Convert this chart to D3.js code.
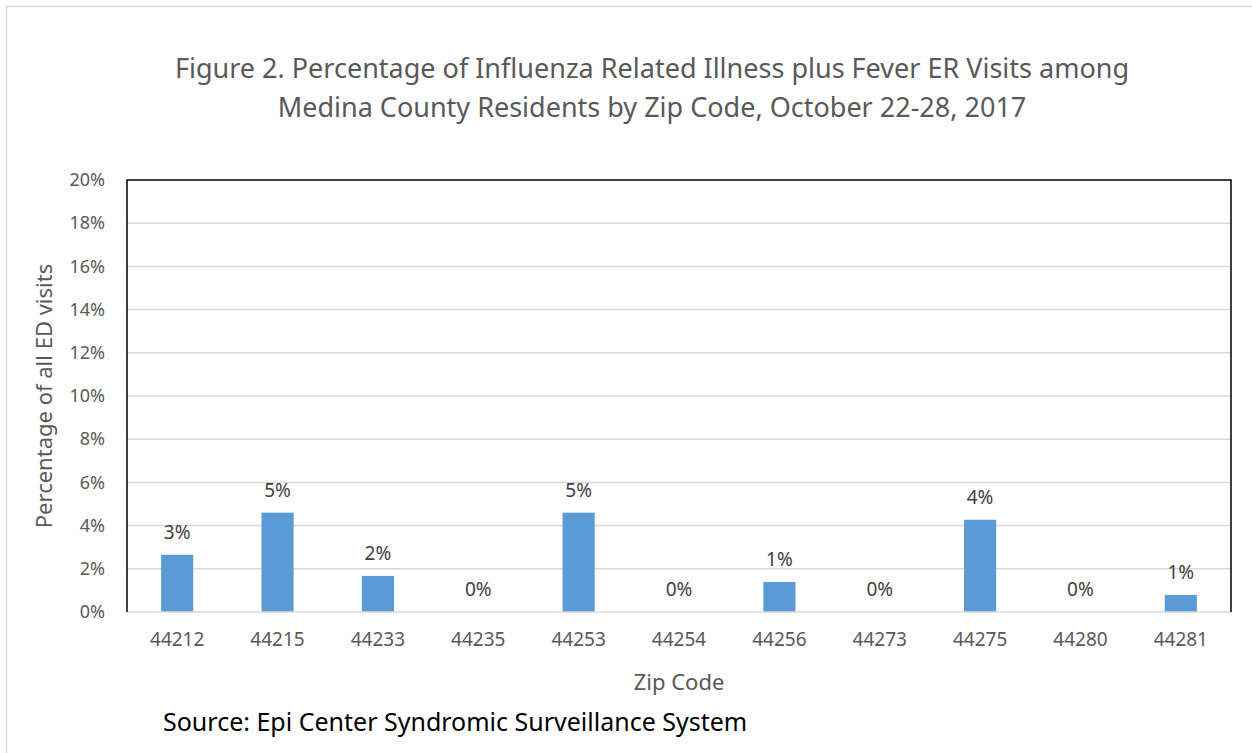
<!DOCTYPE html>
<html>
<head>
<meta charset="utf-8">
<script src="https://cdn.jsdelivr.net/npm/d3@7"></script>
<style>
  html, body { margin: 0; padding: 0; background: #fff; }
  svg { display: block; }
</style>
</head>
<body>
<div id="chart"></div>
<script>
// Data
const zipCodes = ["44212", "44215", "44233", "44235", "44253", "44254", "44256", "44273", "44275", "44280", "44281"];
const percentValues = [2.65, 4.6, 1.67, 0, 4.6, 0, 1.39, 0, 4.27, 0, 0.79];
const yTicks = [0, 2, 4, 6, 8, 10, 12, 14, 16, 18, 20];
const titleLines = [
  "Figure 2. Percentage of Influenza Related Illness plus Fever ER Visits among",
  "Medina County Residents by Zip Code, October 22-28, 2017"
];

const width = 1252;
const height = 753;
const margin = { top: 180, right: 21, bottom: 141, left: 127 };
const font = "'Noto Sans', 'Open Sans', sans-serif";
const textGray = "#595959";

const svg = d3.select("#chart")
  .append("svg")
  .attr("width", width)
  .attr("height", height);

// outer frame
svg.append("rect")
  .attr("x", 6.5).attr("y", 6.5)
  .attr("width", 1260).attr("height", 760)
  .attr("fill", "#fff")
  .attr("stroke", "#d9d9d9")
  .attr("stroke-width", 1.5);

const x = d3.scaleBand()
  .domain(zipCodes)
  .range([margin.left, width - margin.right])
  .paddingInner(0.68)
  .paddingOuter(0.34);

const y = d3.scaleLinear()
  .domain([0, 20])
  .range([height - margin.bottom, margin.top]);

// grid lines
svg.append("g")
  .selectAll("line")
  .data(yTicks.filter(d => d > 0 && d < 20))
  .join("line")
  .attr("x1", margin.left)
  .attr("x2", width - margin.right)
  .attr("y1", d => y(d))
  .attr("y2", d => y(d))
  .attr("stroke", "#d9d9d9")
  .attr("stroke-width", 1.5);

// bars
svg.append("g")
  .selectAll("rect")
  .data(percentValues)
  .join("rect")
  .attr("x", (d, i) => x(zipCodes[i]))
  .attr("y", d => y(d))
  .attr("width", x.bandwidth())
  .attr("height", d => y(0) - y(d))
  .attr("fill", "#5b9bd5");

// value labels
svg.append("g")
  .selectAll("text")
  .data(percentValues)
  .join("text")
  .attr("x", (d, i) => x(zipCodes[i]) + x.bandwidth() / 2)
  .attr("y", d => y(d) - 16)
  .attr("text-anchor", "middle")
  .attr("font-family", font)
  .attr("font-size", "19px")
  .attr("fill", "#404040")
  .text(d => Math.round(d) + "%");

// bottom axis line (gray)
svg.append("line")
  .attr("x1", margin.left).attr("x2", width - margin.right)
  .attr("y1", y(0)).attr("y2", y(0))
  .attr("stroke", "#d9d9d9")
  .attr("stroke-width", 1.5);

// plot border: left, top, right in black
svg.append("path")
  .attr("d", `M${margin.left},${y(0)}V${y(20)}H${width - margin.right}V${y(0)}`)
  .attr("fill", "none")
  .attr("stroke", "#000")
  .attr("stroke-width", 1.5);

// y axis
const yAxis = svg.append("g")
  .attr("transform", `translate(${margin.left},0)`)
  .call(d3.axisLeft(y).tickValues(yTicks).tickSize(0).tickPadding(22).tickFormat(d => d + "%"));
yAxis.select(".domain").remove();
yAxis.selectAll("text")
  .attr("font-family", font)
  .attr("font-size", "18px")
  .attr("fill", textGray);

// x axis
const xAxis = svg.append("g")
  .attr("transform", `translate(0,${y(0)})`)
  .call(d3.axisBottom(x).tickSize(0).tickPadding(21));
xAxis.select(".domain").remove();
xAxis.selectAll("text")
  .attr("font-family", font)
  .attr("font-size", "19px")
  .attr("fill", textGray);

// axis titles
svg.append("text")
  .attr("transform", `translate(52,${(y(0) + y(20)) / 2}) rotate(-90)`)
  .attr("text-anchor", "middle")
  .attr("font-family", font)
  .attr("font-size", "22px")
  .attr("fill", textGray)
  .text("Percentage of all ED visits");

svg.append("text")
  .attr("x", (margin.left + width - margin.right) / 2)
  .attr("y", 690)
  .attr("text-anchor", "middle")
  .attr("font-family", font)
  .attr("font-size", "22px")
  .attr("fill", textGray)
  .text("Zip Code");

// chart title
svg.append("g")
  .selectAll("text")
  .data(titleLines)
  .join("text")
  .attr("x", (margin.left + width - margin.right) / 2 - 27)
  .attr("y", (d, i) => 78 + i * 39)
  .attr("text-anchor", "middle")
  .attr("font-family", font)
  .attr("font-size", "27px")
  .attr("fill", textGray)
  .text(d => d);

// source note
svg.append("text")
  .attr("x", 163)
  .attr("y", 731)
  .attr("font-family", font)
  .attr("font-size", "25px")
  .attr("fill", "#000")
  .text("Source: Epi Center Syndromic Surveillance System");
</script>
</body>
</html>
